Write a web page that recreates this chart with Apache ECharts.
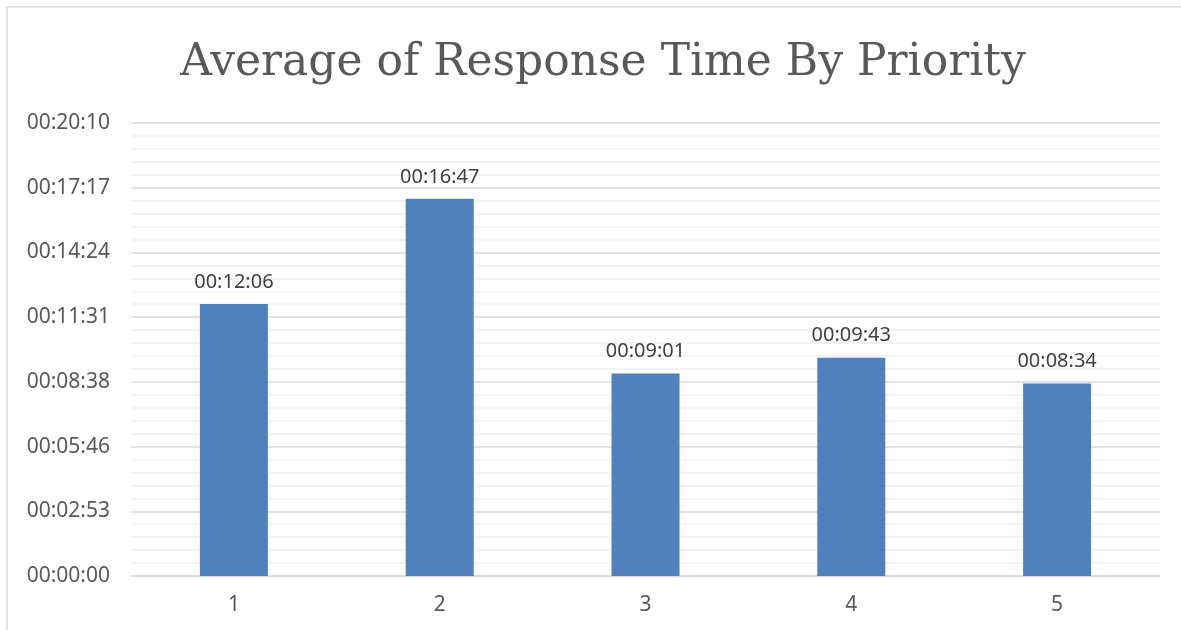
<!DOCTYPE html>
<html lang="en">
<head>
    <meta charset="UTF-8">
    <title>Average of Response Time By Priority</title>
    <script src="https://cdn.jsdelivr.net/npm/echarts@6/dist/echarts.min.js"></script>
</head>
<style>
html,body{margin: 0;padding: 0;background: #fff}
#chartBox{width: 1181px;height: 630px}
</style>
<body>
    <div id="chartBox"></div>
</body>
<script>
// priority categories and average response time (seconds)
const priorities = ['1', '2', '3', '4', '5'];
const responseSeconds = [726, 1007, 541, 583, 514];
// axis in fractions of a day, like the spreadsheet
const axisMax = 0.014;
const axisStep = 0.002;

function toClock(days){
    let s = Math.round(days * 86400);
    const h = Math.floor(s / 3600); s -= h * 3600;
    const m = Math.floor(s / 60); s -= m * 60;
    const p = n => String(n).padStart(2, '0');
    return p(h) + ':' + p(m) + ':' + p(s);
}

const chartObj = echarts.init(document.getElementById('chartBox'));
chartObj.setOption({
    animation: false,
    title: {
        text: 'Average of Response Time By Priority',
        left: 598,
        textAlign: 'center',
        top: 37,
        textStyle: {
            fontFamily: 'DejaVu Serif',
            fontWeight: 'normal',
            fontSize: 44,
            color: '#595959'
        }
    },
    graphic: [{
        type: 'rect',
        shape: {x: 7, y: 7, width: 1200, height: 640},
        style: {fill: 'none', stroke: '#d9d9d9', lineWidth: 1.5}
    }],
    grid: {left: 131, right: 21, top: 123, bottom: 54},
    xAxis: {
        type: 'category',
        data: priorities,
        axisTick: {show: false},
        axisLine: {lineStyle: {color: '#d9d9d9', width: 1.5}},
        axisLabel: {color: '#595959', fontSize: 21, fontFamily: 'Noto Sans', margin: 19}
    },
    yAxis: {
        type: 'value',
        min: 0,
        max: axisMax,
        interval: axisStep,
        axisLine: {show: false},
        axisTick: {show: false},
        axisLabel: {
            color: '#595959', fontSize: 21, fontFamily: 'Noto Sans', margin: 21,
            formatter: v => toClock(v)
        },
        splitLine: {lineStyle: {color: '#d9d9d9', width: 1.5}},
        minorTick: {show: false, splitNumber: 5},
        minorSplitLine: {show: true, lineStyle: {color: '#f0f0f0', width: 1.5}}
    },
    series: [{
        type: 'bar',
        data: responseSeconds.map(s => s / 86400),
        barWidth: 68,
        itemStyle: {color: '#4f81bd'},
        label: {
            show: true,
            position: 'top',
            distance: 12,
            color: '#404040',
            fontSize: 20,
            fontFamily: 'Noto Sans',
            formatter: p => toClock(p.value)
        }
    }]
});
</script>
</html>
